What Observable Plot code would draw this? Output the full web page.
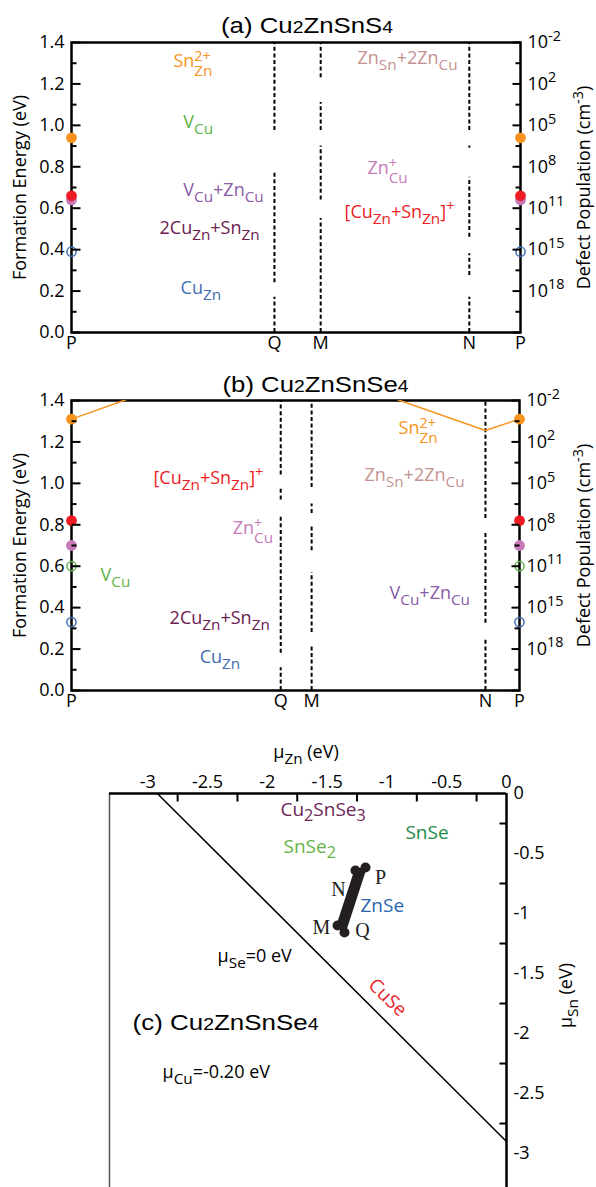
<!DOCTYPE html>
<html><head><meta charset="utf-8">
<script src="https://cdn.jsdelivr.net/npm/d3@7"></script>
<script src="https://cdn.jsdelivr.net/npm/@observablehq/plot@0.6"></script>
<style>
body{margin:0;background:#fff;}
#chart{position:relative;width:596px;height:1187px;overflow:hidden;background:#fff;}
#chart svg{position:absolute;left:0;}
</style></head><body><div id="chart"></div>
<script>
// ---------- data ----------
const kLabels = ["P", "Q", "M", "N", "P"];
const kPosA = [0, 0.452, 0.555, 0.886, 1];
const kPosB = [0, 0.467, 0.536, 0.924, 1];

const energyTicks = [0, 0.2, 0.4, 0.6, 0.8, 1.0, 1.2, 1.4];
const energyMinor = [0.1, 0.3, 0.5, 0.7, 0.9, 1.1, 1.3];
const popTickEnergies = [1.4, 1.2, 1.0, 0.8, 0.6, 0.4, 0.2];
const popTickLabels = ["10^{-2}", "10^{2}", "10^{5}", "10^{8}", "10^{11}", "10^{15}", "10^{18}"];

const defectKeys = ["Sn2+", "VCu", "VCu+ZnCu", "2CuZn+SnZn", "CuZn", "ZnSn+2ZnCu", "ZnCu+", "CuZn+SnZn+"];
const defectTexts = ["Sn^{2+}_{Zn}", "V_{Cu}", "V_{Cu}+Zn_{Cu}", "2Cu_{Zn}+Sn_{Zn}", "Cu_{Zn}", "Zn_{Sn}+2Zn_{Cu}", "Zn^{+}_{Cu}", "[Cu_{Zn}+Sn_{Zn}]^{+}"];
const openDefects = ["VCu", "CuZn"];

// formation energies at P (eV)
const dotDefectsA = ["Sn2+", "ZnCu+", "CuZn+SnZn+", "CuZn"];
const dotEnergiesA = [0.94, 0.64, 0.66, 0.39];
const dotDefectsB = ["Sn2+", "ZnCu+", "CuZn+SnZn+", "VCu", "CuZn"];
const dotEnergiesB = [1.31, 0.70, 0.82, 0.60, 0.33];

// Sn_Zn 2+ line in (b) along P-Q-M-N-P
const snLineB = [1.31, 1.67, 1.55, 1.255, 1.31];

// label anchors (k-path position, eV)
const labelDefectsA = ["Sn2+", "VCu", "VCu+ZnCu", "2CuZn+SnZn", "CuZn", "ZnSn+2ZnCu", "ZnCu+", "CuZn+SnZn+"];
const labelKA = [0.227, 0.249, 0.249, 0.196, 0.243, 0.637, 0.659, 0.608];
const labelEA = [1.308, 1.014, 0.686, 0.502, 0.212, 1.323, 0.792, 0.579];
const labelDefectsB = ["CuZn+SnZn+", "ZnCu+", "VCu", "2CuZn+SnZn", "CuZn", "Sn2+", "ZnSn+2ZnCu", "VCu+ZnCu"];
const labelKB = [0.183, 0.360, 0.065, 0.219, 0.286, 0.730, 0.654, 0.710];
const labelEB = [1.024, 0.782, 0.555, 0.348, 0.159, 1.265, 1.038, 0.468];

// dashed k-point lines: visible pieces [low, high] in eV
const dashQA = [[0.975, 1.4], [0.24, 0.78], [0, 0.17]];
const dashMA = [[1.23, 1.4], [0.975, 1.11], [0.64, 0.90], [0, 0.55]];
const dashNA = [[0.975, 1.4], [0.89, 0.90], [0.46, 0.75], [0.275, 0.38], [0, 0.17]];
const dashQB = [[1.04, 1.4], [0.92, 0.975], [0.18, 0.845], [0, 0.11]];
const dashMB = [[0.98, 1.4], [0.855, 0.90], [0.675, 0.79], [0.28, 0.57], [0, 0.21]];
const dashNB = [[0.83, 1.4], [0.325, 0.77], [0, 0.255]];

// panel (c)
const muZnTickLabels = [-3, -2.5, -2, -1.5, -1, -0.5, 0];
const muZnTickMarks = [-2.75, -2.25, -1.75, -1.25, -0.75, -0.25];
const muSnTickLabels = [0, -0.5, -1, -1.5, -2, -2.5, -3];
const muSnTickMarks = [-0.25, -0.75, -1.25, -1.75, -2.25, -2.75];
const boundaryZn = [-2.92, 0];
const boundarySn = [0, -2.9];
const regionNames = ["P", "N", "M", "Q"];
const regionZn = [-1.179, -1.263, -1.413, -1.355];
const regionSn = [-0.617, -0.642, -1.10, -1.158];
const regionLabelZn = [-1.054, -1.405, -1.547, -1.204];
const regionLabelSn = [-0.70, -0.80, -1.117, -1.142];
const phaseTexts = ["Cu_{2}SnSe_{3}", "SnSe_{2}", "SnSe", "ZnSe"];
const phaseZn = [-1.89, -1.865, -0.845, -1.221];
const phaseSn = [-0.133, -0.442, -0.325, -0.933];

// ---------- styles ----------
const defectColors = ["#f7941d", "#5cb548", "#8a5ba7", "#6a2050", "#3f6db4", "#c4938f", "#c67aba", "#ed1c24"];
const phaseColors = ["#6b2657", "#66b446", "#238a4a", "#2a66ae"];
const titleTexts = ["(a) Cu%{2}ZnSnS%{4}", "(b) Cu%{2}ZnSnSe%{4}", "(c) Cu%{2}ZnSnSe%{4}"];
const titleLengths = [172, 186, 186];
const colorOf = k => defectColors[defectKeys.indexOf(k)];
const textOf = k => defectTexts[defectKeys.indexOf(k)];
const SANS = "'Open Sans', 'DejaVu Sans', sans-serif";
const TITLE = "'Liberation Sans', Arial, sans-serif";
const SERIF = "'Liberation Serif', 'Times New Roman', serif";
const tickSym = (dx, dy) => ({draw(ctx) { ctx.moveTo(0, 0); ctx.lineTo(dx, dy); }});
const isOpen = k => openDefects.includes(k);

function energyPanel(o) {
  const dashRows = [];
  o.dashes.forEach((segs, i) => segs.forEach(s => dashRows.push({k: o.kPos[i + 1], lo: s[0], hi: s[1]})));
  const dotRows = o.dotDefects.map((d, i) => ({k: d, E: o.dotEnergies[i]}));
  const dotRowsBoth = [...dotRows.map(d => ({...d, x: 0})), ...dotRows.map(d => ({...d, x: 1}))];
  const labRows = o.labelDefects.map((d, i) => ({k: d, x: o.labelK[i], E: o.labelE[i]}));
  const marks = [
    Plot.frame({stroke: "black", strokeWidth: 2.5}),
    Plot.ruleX(dashRows, {x: "k", y1: "lo", y2: "hi", stroke: "black", strokeWidth: 2, strokeDasharray: "4,2.6"}),
  ];
  if (o.snLine) marks.push(Plot.line(o.snLine.map((e, i) => ({x: o.kPos[i], E: e})), {x: "x", y: "E", stroke: colorOf("Sn2+"), strokeWidth: 1.5, clip: true}));
  marks.push(
    Plot.dot(dotRowsBoth.filter(d => !isOpen(d.k)), {x: "x", y: "E", r: 5.4, fill: d => colorOf(d.k), stroke: "none"}),
    Plot.dot(dotRowsBoth.filter(d => isOpen(d.k)), {x: "x", y: "E", r: 4.6, fill: "none", stroke: d => colorOf(d.k), strokeWidth: 1.5}),
    Plot.dot(energyTicks, {y: d => d, frameAnchor: "left", symbol: tickSym(9, 0), fill: "none", stroke: "black", strokeWidth: 2}),
    Plot.dot(energyMinor, {y: d => d, frameAnchor: "left", symbol: tickSym(5, 0), fill: "none", stroke: "black", strokeWidth: 2}),
    Plot.dot(energyTicks, {y: d => d, frameAnchor: "right", symbol: tickSym(-8, 0), fill: "none", stroke: "black", strokeWidth: 2}),
    Plot.dot(energyMinor, {y: d => d, frameAnchor: "right", symbol: tickSym(-5, 0), fill: "none", stroke: "black", strokeWidth: 2}),
    Plot.text(energyTicks, {y: d => d, text: d => d.toFixed(1), frameAnchor: "left", textAnchor: "end", lineAnchor: "middle", dx: -7, fontSize: 18}),
    Plot.text(popTickEnergies, {y: d => d, text: (d, i) => popTickLabels[i], frameAnchor: "right", textAnchor: "start", lineAnchor: "middle", dx: 7, fontSize: 18}),
    Plot.text(kLabels, {x: (d, i) => o.kPos[i], text: d => d, frameAnchor: "bottom", textAnchor: "middle", lineAnchor: "middle", dy: 11, fontSize: 18}),
    Plot.text(labRows, {x: "x", y: "E", text: d => textOf(d.k), fill: d => colorOf(d.k), textAnchor: "start", lineAnchor: "middle", fontSize: 18}),
    Plot.text(["Formation Energy (eV)"], {text: d => d, frameAnchor: "left", textAnchor: "middle", lineAnchor: "middle", rotate: -90, dx: -51, fontSize: 18}),
    Plot.text(["Defect Population (cm^{-3})"], {text: d => d, frameAnchor: "right", textAnchor: "middle", lineAnchor: "middle", rotate: -90, dx: o.rightTitleDx, fontSize: 18}),
    Plot.text([o.title], {text: d => d, frameAnchor: "top", textAnchor: "middle", lineAnchor: "middle", dx: o.titleDx, dy: o.titleDy, fontFamily: TITLE, fontSize: 22.5})
  );
  return Plot.plot({
    width: 596, height: o.height, marginTop: o.marginTop, marginBottom: o.marginBottom,
    marginLeft: 71, marginRight: o.marginRight,
    x: {domain: [0, 1], axis: null}, y: {domain: [0, 1.4], axis: null},
    color: {type: "identity"},
    style: {fontFamily: SANS, fontSize: "18px", background: "white", color: "black", overflow: "visible"},
    marks
  });
}

const panelA = energyPanel({
  title: titleTexts[0], titleDx: 11, titleDy: -16.5, rightTitleDx: 64,
  kPos: kPosA, dashes: [dashQA, dashMA, dashNA],
  dotDefects: dotDefectsA, dotEnergies: dotEnergiesA,
  labelDefects: labelDefectsA, labelK: labelKA, labelE: labelEA,
  height: 355, marginTop: 42, marginBottom: 23, marginRight: 76
});
const panelB = energyPanel({
  title: titleTexts[1], titleDx: 20, titleDy: -15.7, rightTitleDx: 65,
  kPos: kPosB, dashes: [dashQB, dashMB, dashNB], snLine: snLineB,
  dotDefects: dotDefectsB, dotEnergies: dotEnergiesB,
  labelDefects: labelDefectsB, labelK: labelKB, labelE: labelEB,
  height: 360, marginTop: 45, marginBottom: 25, marginRight: 77
});

const regionRows = regionNames.map((n, i) => ({n, x: regionZn[i], y: regionSn[i]}));
const panelC = Plot.plot({
  width: 596, height: 472, marginTop: 78, marginBottom: 0, marginLeft: 109, marginRight: 90,
  x: {domain: [-3.32, 0], axis: null}, y: {domain: [-3.283, 0], axis: null},
  color: {type: "identity"},
  style: {fontFamily: SANS, fontSize: "18px", background: "white", color: "black", overflow: "visible"},
  marks: [
    Plot.ruleX([-3.32], {stroke: "#555", strokeWidth: 1.5}),
    Plot.ruleX([0], {stroke: "black", strokeWidth: 2.5}),
    Plot.ruleY([0], {stroke: "black", strokeWidth: 2.5}),
    Plot.dot(muZnTickMarks, {x: d => d, frameAnchor: "top", symbol: tickSym(0, 8), fill: "none", stroke: "black", strokeWidth: 2}),
    Plot.dot(muSnTickMarks, {y: d => d, frameAnchor: "right", symbol: tickSym(-7, 0), fill: "none", stroke: "black", strokeWidth: 2}),
    Plot.text(muZnTickLabels, {x: d => d, text: d => String(d), frameAnchor: "top", textAnchor: "middle", lineAnchor: "middle", dy: -11, fontSize: 18}),
    Plot.text(muSnTickLabels, {y: d => d, text: d => String(d), frameAnchor: "right", textAnchor: "start", lineAnchor: "middle", dx: 7, fontSize: 18}),
    Plot.line(boundaryZn.map((x, i) => ({x, y: boundarySn[i]})), {x: "x", y: "y", stroke: "black", strokeWidth: 1.5}),
    Plot.line([...regionRows, regionRows[0]], {x: "x", y: "y", fill: "#231f20", stroke: "#231f20", strokeWidth: 2.5}),
    Plot.dot(regionRows, {x: "x", y: "y", r: 5, fill: "#231f20"}),
    Plot.text(regionNames, {x: (d, i) => regionLabelZn[i], y: (d, i) => regionLabelSn[i], text: d => d, fontFamily: SERIF, fontSize: 20, fill: "#231f20"}),
    Plot.text(phaseTexts, {x: (d, i) => phaseZn[i], y: (d, i) => phaseSn[i], text: d => d, fill: (d, i) => phaseColors[i], textAnchor: "start", fontSize: 19}),
    Plot.text(["CuSe"], {x: -0.995, y: -1.70, text: d => d, rotate: 44, fill: "#e8242a", fontSize: 19}),
    Plot.text(["μ_{Se}=0 eV"], {x: -2.416, y: -1.36, text: d => d, textAnchor: "start", fontSize: 18}),
    Plot.text([titleTexts[2]], {x: -3.127, y: -1.908, text: d => d, textAnchor: "start", fontFamily: TITLE, fontSize: 22.5}),
    Plot.text(["μ_{Cu}=-0.20 eV"], {x: -2.876, y: -2.325, text: d => d, textAnchor: "start", fontSize: 18}),
    Plot.text(["μ_{Zn} (eV)"], {text: d => d, frameAnchor: "top", textAnchor: "middle", lineAnchor: "middle", dx: -2, dy: -41, fontSize: 18}),
    Plot.text(["μ_{Sn} (eV)"], {text: d => d, frameAnchor: "right", textAnchor: "middle", lineAnchor: "middle", rotate: -90, dx: 60, dy: 5, fontSize: 18})
  ]
});

const chart = document.getElementById("chart");
[[panelA, 0], [panelB, 355], [panelC, 715]].forEach(([p, top]) => {
  p.style.top = top + "px";
  chart.appendChild(p);
});

// ---------- rich text: _{sub}, ^{sup}, %{small} ----------
function richify(root) {
  const ns = "http://www.w3.org/2000/svg";
  root.querySelectorAll("text").forEach(t => {
    const s = t.textContent;
    if (!/[_^%]\{/.test(s)) return;
    const tokens = [];
    const re = /([_^%])\{([^}]*)\}|([^_^%]+)/g;
    let m;
    while ((m = re.exec(s))) {
      if (m[3] !== undefined) tokens.push({type: "n", text: m[3]});
      else tokens.push({type: m[1] === "_" ? "sub" : m[1] === "^" ? "sup" : "small", text: m[2]});
    }
    for (let i = 0; i < tokens.length; i++) {
      if (tokens[i].type === "sup" && tokens[i + 1] && tokens[i + 1].type === "sub") {
        tokens[i].stacked = true; tokens[i + 1].stacked = true;
      }
    }
    const fs = parseFloat(getComputedStyle(t).fontSize) || 18;
    const ti = titleTexts.indexOf(s);
    if (ti >= 0) {
      t.setAttribute("textLength", titleLengths[ti]);
      t.setAttribute("lengthAdjust", "spacingAndGlyphs");
    }
    while (t.firstChild) t.removeChild(t.firstChild);
    let shift = 0;
    let prevSupWidth = 0;
    tokens.forEach(tk => {
      const ts = document.createElementNS(ns, "tspan");
      ts.textContent = tk.text;
      let target = 0, size = fs;
      if (tk.type === "sub") { target = fs * (tk.stacked ? 0.5 : 0.3); size = fs * 0.85; }
      else if (tk.type === "sup") { target = -fs * (tk.stacked ? 0.36 : 0.42); size = fs * 0.8; }
      else if (tk.type === "small") { size = fs * 0.75; }
      const dy = target - shift;
      if (dy) ts.setAttribute("dy", dy.toFixed(2));
      shift = target;
      if (size !== fs) ts.setAttribute("font-size", size.toFixed(2));
      if (tk.type === "sub" && tk.stacked) ts.setAttribute("dx", (-prevSupWidth).toFixed(2));
      t.appendChild(ts);
      if (tk.type === "sup" && tk.stacked) prevSupWidth = ts.getComputedTextLength();
    });
  });
}
richify(chart);
</script></body></html>
